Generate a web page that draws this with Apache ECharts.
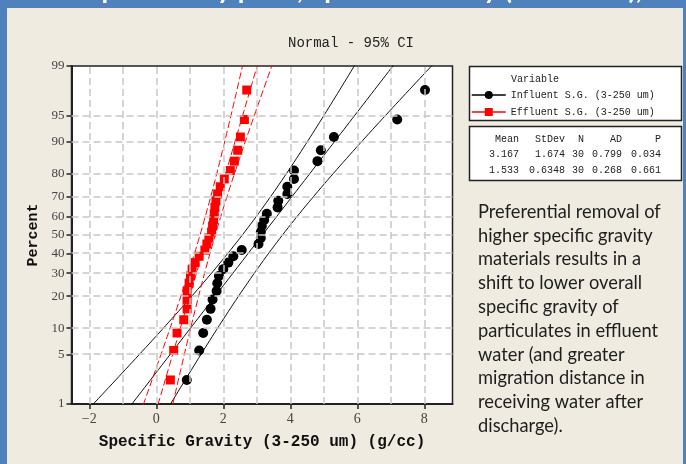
<!DOCTYPE html>
<html>
<head>
<meta charset="utf-8">
<script src="https://cdn.jsdelivr.net/npm/echarts@6/dist/echarts.min.js"></script>
<style>
  html, body { margin: 0; padding: 0; background: #4f81bd; }
  #chart { width: 686px; height: 464px; }
</style>
</head>
<body>
<div id="chart"></div>
<script>
// sorted sample values (g/cc)
const influentSG = [0.91, 1.28, 1.40, 1.51, 1.62, 1.68, 1.80, 1.82, 1.87, 2.00,
  2.15, 2.30, 2.55, 3.05, 3.12, 3.12, 3.15, 3.22, 3.30, 3.62,
  3.64, 3.91, 3.91, 4.11, 4.11, 4.81, 4.91, 5.30, 7.19, 8.02]
const effluentSG = [0.42, 0.52, 0.62, 0.82, 0.92, 0.92, 0.92, 0.98, 1.02, 1.07,
  1.16, 1.28, 1.45, 1.51, 1.57, 1.65, 1.68, 1.71, 1.73, 1.75,
  1.78, 1.83, 1.91, 2.03, 2.21, 2.33, 2.43, 2.51, 2.63, 2.70]
// plotting positions (percent) of the 30 ranked points
const plotPct = [2.30, 5.59, 8.88, 12.17, 15.46, 18.75, 22.04, 25.33, 28.62, 31.91,
  35.20, 38.49, 41.78, 45.07, 48.36, 51.64, 54.93, 58.22, 61.51, 64.80,
  68.09, 71.38, 74.67, 77.96, 81.25, 84.54, 87.83, 91.12, 94.41, 97.70]

const pctTicks = [1, 5, 10, 20, 30, 40, 50, 60, 70, 80, 90, 95, 99]
const sgTicks = [-2, 0, 2, 4, 6, 8]
const sgGrid = [-2, -1, 0, 1, 2, 3, 4, 5, 6, 7, 8]

const statsHead = ['Mean', 'StDev', 'N', 'AD', 'P']
const influentStats = ['3.167', '1.674', '30', '0.799', '0.034']
const effluentStats = ['1.533', '0.6348', '30', '0.268', '0.661']
const influentMean = 3.167, influentSd = 1.674
const effluentMean = 1.533, effluentSd = 0.6348
const sampleN = 30

const nameIn = 'Influent S.G. (3-250 um)'
const nameEf = 'Effluent S.G. (3-250 um)'

// inverse normal cdf (Acklam), used as the probability scale
function probit(p) {
  const a = [-3.969683028665376e+01, 2.209460984245205e+02, -2.759285104469687e+02, 1.383577518672690e+02, -3.066479806614716e+01, 2.506628277459239e+00]
  const b = [-5.447609879822406e+01, 1.615858368580409e+02, -1.556989798598866e+02, 6.680131188771972e+01, -1.328068155092996e+01]
  const c = [-7.784894002430293e-03, -3.223964580411365e-01, -2.400758277161838e+00, -2.549732539343734e+00, 4.374664141464968e+00, 2.938163982698783e+00]
  const d = [7.784695709041462e-03, 3.224671290700398e-01, 2.445134137142996e+00, 3.754408661907416e+00]
  const pl = 0.02425
  let q, r
  if (p < pl) {
    q = Math.sqrt(-2 * Math.log(p))
    return (((((c[0] * q + c[1]) * q + c[2]) * q + c[3]) * q + c[4]) * q + c[5]) / ((((d[0] * q + d[1]) * q + d[2]) * q + d[3]) * q + 1)
  }
  if (p <= 1 - pl) {
    q = p - 0.5
    r = q * q
    return (((((a[0] * r + a[1]) * r + a[2]) * r + a[3]) * r + a[4]) * r + a[5]) * q / (((((b[0] * r + b[1]) * r + b[2]) * r + b[3]) * r + b[4]) * r + 1)
  }
  q = Math.sqrt(-2 * Math.log(1 - p))
  return -(((((c[0] * q + c[1]) * q + c[2]) * q + c[3]) * q + c[4]) * q + c[5]) / ((((d[0] * q + d[1]) * q + d[2]) * q + d[3]) * q + 1)
}

const zTicks = pctTicks.map(p => probit(p / 100))
const zMin = zTicks[0]
const zMax = zTicks[zTicks.length - 1]

function points(xs) {
  return xs.map((x, i) => [x, probit(plotPct[i] / 100)])
}

// fitted normal line and its 95% band
function fitLine(mean, sd, k) {
  let out = []
  for (let z = -2.6; z <= 2.6001; z += 0.05) {
    let se = sd * Math.sqrt((1 + z * z / 2) / sampleN)
    out.push([mean + z * sd + k * 1.96 * se, z])
  }
  return out
}

function pctLabel(v) {
  let best = 0
  for (let i = 1; i < zTicks.length; i++) {
    if (Math.abs(zTicks[i] - v) < Math.abs(zTicks[best] - v)) best = i
  }
  return String(pctTicks[best])
}

const mono = 'Liberation Mono'
const serif = 'Liberation Serif'
const gridColor = '#c8c8c8'

function bandSeries(name, data, color, dashed) {
  return {
    name: name,
    type: 'line',
    data: data,
    showSymbol: false,
    symbol: 'none',
    silent: true,
    z: 2,
    lineStyle: { color: color, width: 1, type: dashed ? [7, 3] : 'solid' }
  }
}

let myChart = echarts.init(document.getElementById('chart'))

let tableCols = [519, 565, 584, 622, 661]
let tableText = []
;[statsHead, influentStats, effluentStats].forEach((row, r) => {
  row.forEach((t, c) => {
    tableText.push({
      type: 'text', x: tableCols[c], y: 139 + r * 15.5,
      style: { text: t, fill: '#222', font: '10px "' + mono + '"', textAlign: 'right', textVerticalAlign: 'middle' }
    })
  })
})

let option = {
  backgroundColor: '#4f81bd',
  animation: false,
  graphic: [
    {
      type: 'text', x: 6, y: 4, z: -2,
      style: { text: 'Normal probability plots, Specific Gravity (3-250 um), Influent vs Effluent', fill: '#fff', font: 'bold 27px Lato', textVerticalAlign: 'bottom' }
    },
    { type: 'rect', z: -1, shape: { x: 7, y: 8, width: 676, height: 460 }, style: { fill: '#efebe1' } },
    {
      type: 'text', x: 351, y: 43,
      style: { text: 'Normal - 95% CI', fill: '#222', font: '14px "' + mono + '"', textAlign: 'center', textVerticalAlign: 'middle' }
    },
    { type: 'rect', shape: { x: 469.5, y: 66.5, width: 212, height: 54 }, style: { fill: '#fff', stroke: '#222', lineWidth: 1.5 } },
    {
      type: 'text', x: 511, y: 79,
      style: { text: 'Variable', fill: '#222', font: '10px "' + mono + '"', textVerticalAlign: 'middle' }
    },
    { type: 'rect', shape: { x: 469.5, y: 126.5, width: 212, height: 54 }, style: { fill: '#fff', stroke: '#222', lineWidth: 1.5 } },
    ...tableText,
    {
      type: 'text', x: 478, y: 200,
      style: {
        text: 'Preferential removal of\nhigher specific gravity\nmaterials results in a\nshift to lower overall\nspecific gravity of\nparticulates in effluent\nwater (and greater\nmigration distance in\nreceiving water after\ndischarge).',
        fill: '#1e1e1e', font: '18.3px Lato', lineHeight: 23.8
      }
    }
  ],
  legend: {
    orient: 'vertical',
    left: 471,
    top: 90,
    padding: 0,
    itemWidth: 34,
    itemHeight: 10,
    itemGap: 7,
    textStyle: { fontFamily: mono, fontSize: 10, color: '#222' },
    data: [
      { name: nameIn, lineStyle: { opacity: 1, width: 1.5 } },
      { name: nameEf, lineStyle: { opacity: 1, width: 1.5 } }
    ]
  },
  grid: {
    left: 71.5, top: 66, width: 381, height: 338,
    show: true, backgroundColor: '#fff', borderColor: '#222', borderWidth: 1.5
  },
  xAxis: {
    type: 'value',
    min: -2.53,
    max: 8.84,
    name: 'Specific Gravity (3-250 um) (g/cc)',
    nameLocation: 'middle',
    nameGap: 30,
    nameTextStyle: { fontFamily: mono, fontWeight: 'bold', fontSize: 16, color: '#111' },
    axisLine: { onZero: false, lineStyle: { color: '#222', width: 2 } },
    axisTick: { customValues: sgTicks, length: 5, lineStyle: { color: '#222', width: 1.5 } },
    axisLabel: {
      customValues: sgTicks, fontFamily: serif, fontSize: 14, color: '#444', margin: 8,
      formatter: v => String(v).replace('-', '\u2212')
    },
    splitLine: { show: false }
  },
  yAxis: {
    type: 'value',
    min: zMin,
    max: zMax,
    name: 'Percent',
    nameLocation: 'middle',
    nameGap: 30,
    nameTextStyle: { fontFamily: mono, fontWeight: 'bold', fontSize: 15, color: '#111' },
    axisLine: { onZero: false, lineStyle: { color: '#222', width: 2 } },
    axisTick: { customValues: zTicks, length: 5, lineStyle: { color: '#222', width: 1.5 } },
    axisLabel: { customValues: zTicks, fontFamily: serif, fontSize: 13, color: '#444', margin: 7, formatter: pctLabel },
    splitLine: { show: false }
  },
  series: [
    {
      type: 'line',
      data: [],
      silent: true,
      z: 1,
      markLine: {
        silent: true,
        symbol: 'none',
        label: { show: false },
        lineStyle: { color: gridColor, type: [7, 4], width: 1.5 },
        data: sgGrid.map(v => ({ xAxis: v })).concat(zTicks.slice(1, -1).map(v => ({ yAxis: v })))
      }
    },
    bandSeries('inFit', fitLine(influentMean, influentSd, 0), '#111', false),
    bandSeries('inLo', fitLine(influentMean, influentSd, -1), '#111', false),
    bandSeries('inHi', fitLine(influentMean, influentSd, 1), '#111', false),
    bandSeries('efFit', fitLine(effluentMean, effluentSd, 0), '#ff0000', true),
    bandSeries('efLo', fitLine(effluentMean, effluentSd, -1), '#ff0000', true),
    bandSeries('efHi', fitLine(effluentMean, effluentSd, 1), '#ff0000', true),
    {
      name: nameIn,
      type: 'line',
      data: points(influentSG),
      symbol: 'circle',
      symbolSize: 10,
      z: 4,
      itemStyle: { color: '#000' },
      lineStyle: { color: '#000', opacity: 0 }
    },
    {
      name: nameEf,
      type: 'line',
      data: points(effluentSG),
      symbol: 'rect',
      symbolSize: 9,
      z: 3,
      itemStyle: { color: '#ff0000' },
      lineStyle: { color: '#ff0000', opacity: 0 }
    }
  ]
}
myChart.setOption(option)
</script>
</body>
</html>
